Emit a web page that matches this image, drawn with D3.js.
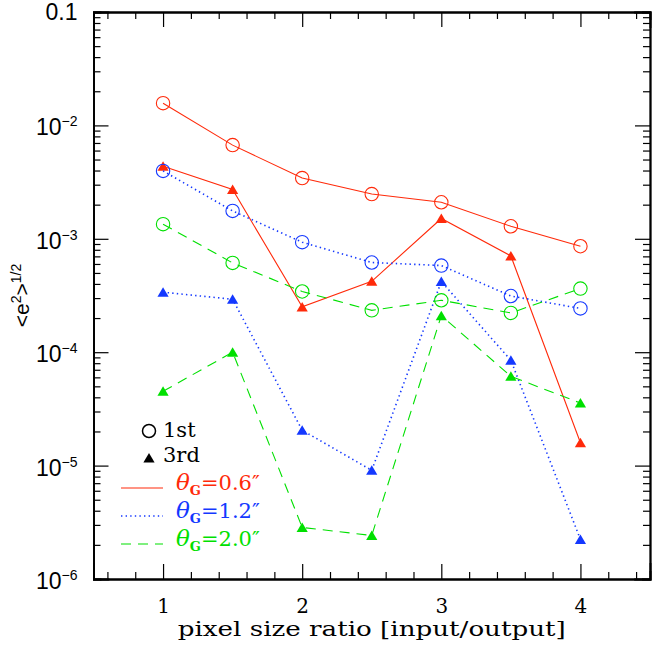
<!DOCTYPE html>
<html>
<head>
<meta charset="utf-8">
<script src="https://cdn.jsdelivr.net/npm/d3@7"></script>
<style>
body { margin: 0; background: #fff; }
svg { display: block; }
.ax path { stroke: #000; stroke-width: 1.8; }
.ax line { stroke: #000; stroke-width: 1.2; }
.ax text { font-family: "DejaVu Serif", serif; font-size: 20px; fill: #000; }
</style>
</head>
<body>
<div id="graphicContainer"></div>
<script>

var ratios = [1, 1.5, 2, 2.5, 3, 3.5, 4]

var red1st = [0.0157, 0.0067, 0.00343, 0.00248, 0.0021, 0.00129, 0.00086]
var red3rd = [0.00437, 0.00272, 0.000251, 0.000422, 0.00151, 0.000706, 1.59e-5]
var blue1st = [0.00397, 0.00176, 0.000933, 0.000618, 0.000581, 0.000313, 0.000243]
var blue3rd = [0.000338, 0.000293, 2.05e-5, 9.08e-6, 0.00042, 8.49e-5, 2.23e-6]
var green1st = [0.001346, 0.000613, 0.000343, 0.000234, 0.000287, 0.000222, 0.000364]
var green3rd = [4.52e-5, 1.0e-4, 2.85e-6, 2.42e-6, 2.1e-4, 6.13e-5, 3.56e-5]

var thetas = ["0.6", "1.2", "2.0"]
var orderLabels = ["1st", "3rd"]
var xTicks = [1, 2, 3, 4]
var yTicks = [1e-6, 1e-5, 1e-4, 1e-3, 1e-2, 0.1]
var xTitle = "pixel size ratio [input/output]"

var colors = ["#ff2a0a", "#1438ff", "#00e000"]
var dashes = [null, "1.4,3.2", "10,7"]

var series = [
	{ vals: red1st, c: 0, mark: "circle" },
	{ vals: red3rd, c: 0, mark: "tri" },
	{ vals: blue1st, c: 1, mark: "circle" },
	{ vals: blue3rd, c: 1, mark: "tri" },
	{ vals: green1st, c: 2, mark: "circle" },
	{ vals: green3rd, c: 2, mark: "tri" }
]

var width = 654, height = 647
var margin = { top: 12, right: 4, bottom: 68, left: 93.5 }
var w = width - margin.left - margin.right
var h = height - margin.top - margin.bottom

var svg = d3.select("#graphicContainer").append("svg")
	.attr("width", width)
	.attr("height", height)

var features = svg.append("g").attr("transform", "translate(" + margin.left + "," + margin.top + ")")

var x = d3.scaleLinear().domain([0.5, 4.5]).range([0, w])
var y = d3.scaleLog().domain([1e-6, 0.1]).range([h, 0])

var xMinor = d3.range(0.6, 4.45, 0.2).filter(function(v) { return Math.abs(v - Math.round(v)) > 0.01 })
var yMinor = []
for (var k = -6; k <= -2; k++) {
	for (var m = 2; m <= 9; m++) yMinor.push(m * Math.pow(10, k))
}

// ticks on all four sides, pointing inward
features.append("g").attr("class", "ax").attr("transform", "translate(0," + h + ")")
	.call(d3.axisBottom(x).tickValues(xTicks).tickSize(-15).tickPadding(20).tickFormat(d3.format("d")))
features.append("g").attr("class", "ax").attr("transform", "translate(0," + h + ")")
	.call(d3.axisBottom(x).tickValues(xMinor).tickSize(-7).tickFormat(""))
features.append("g").attr("class", "ax")
	.call(d3.axisTop(x).tickValues(xTicks).tickSize(-15).tickFormat(""))
features.append("g").attr("class", "ax")
	.call(d3.axisTop(x).tickValues(xMinor).tickSize(-7).tickFormat(""))
features.append("g").attr("class", "ax")
	.call(d3.axisLeft(y).tickValues(yTicks).tickSize(-15).tickFormat(""))
features.append("g").attr("class", "ax")
	.call(d3.axisLeft(y).tickValues(yMinor).tickSize(-7).tickFormat(""))
features.append("g").attr("class", "ax").attr("transform", "translate(" + w + ",0)")
	.call(d3.axisRight(y).tickValues(yTicks).tickSize(-15).tickFormat(""))
features.append("g").attr("class", "ax").attr("transform", "translate(" + w + ",0)")
	.call(d3.axisRight(y).tickValues(yMinor).tickSize(-7).tickFormat(""))

features.selectAll(".ax path").attr("stroke-linecap", "square")

yTicks.forEach(function(v) {
	var e = Math.round(Math.log10(v))
	var t = features.append("text")
		.attr("x", -16)
		.attr("y", y(v) + (e == -1 ? 8 : 10))
		.attr("text-anchor", "end")
		.style("font-family", "'Liberation Sans', Arial, sans-serif")
		.style("font-size", "23px")
	if (e == -1) {
		t.text("0.1")
	} else {
		t.append("tspan").text("10")
		t.append("tspan").attr("dy", -9).style("font-size", "14px").text("\u2212" + Math.abs(e))
	}
})

var yTitle = svg.append("text")
	.attr("transform", "translate(29," + (margin.top + h / 2) + ") rotate(-90)")
	.attr("text-anchor", "middle")
	.style("font-family", "'Liberation Sans', Arial, sans-serif")
	.style("font-size", "21px")
yTitle.append("tspan").text("<e")
yTitle.append("tspan").attr("dy", -8).style("font-size", "14px").text("2")
yTitle.append("tspan").attr("dy", 8).text(">")
yTitle.append("tspan").attr("dy", -8).style("font-size", "14px").text("1/2")

svg.append("text")
	.attr("x", margin.left + w / 2)
	.attr("y", 636)
	.attr("text-anchor", "middle")
	.style("font-family", "'DejaVu Serif', serif")
	.style("font-size", "20px")
	.attr("textLength", 388)
	.attr("lengthAdjust", "spacingAndGlyphs")
	.text(xTitle)

var line = d3.line()
	.x(function(d, i) { return x(ratios[i]) })
	.y(function(d) { return y(d) })

var triPath = "M0,-5L5.6,4.5L-5.6,4.5Z"

series.forEach(function(s) {
	features.append("path")
		.datum(s.vals)
		.attr("d", line)
		.attr("fill", "none")
		.attr("stroke", colors[s.c])
		.attr("stroke-width", s.c == 1 ? 1.6 : 1.1)
		.attr("stroke-dasharray", dashes[s.c])

	if (s.mark == "circle") {
		features.selectAll(null)
			.data(s.vals)
			.enter()
			.append("circle")
			.attr("cx", function(d, i) { return x(ratios[i]) })
			.attr("cy", function(d) { return y(d) })
			.attr("r", 6.7)
			.attr("fill", "none")
			.attr("stroke", colors[s.c])
			.attr("stroke-width", 1.1)
	} else {
		features.selectAll(null)
			.data(s.vals)
			.enter()
			.append("path")
			.attr("d", triPath)
			.attr("transform", function(d, i) { return "translate(" + x(ratios[i]) + "," + y(d) + ")" })
			.attr("fill", colors[s.c])
	}
})

// legend
var legend = svg.append("g")
legend.append("circle").attr("cx", 149).attr("cy", 431).attr("r", 6.5)
	.attr("fill", "none").attr("stroke", "#000").attr("stroke-width", 1.5)
legend.append("path").attr("d", triPath).attr("transform", "translate(149,458)").attr("fill", "#000")

orderLabels.forEach(function(l, i) {
	legend.append("text")
		.attr("x", 163)
		.attr("y", 437 + i * 25)
		.style("font-family", "'DejaVu Serif', serif")
		.style("font-size", "21px")
		.text(l)
})

thetas.forEach(function(t, i) {
	var ly = 488 + i * 28
	legend.append("line")
		.attr("x1", 121).attr("x2", 163)
		.attr("y1", ly).attr("y2", ly)
		.attr("stroke", colors[i])
		.attr("stroke-width", i == 1 ? 1.6 : 1.1)
		.attr("stroke-dasharray", dashes[i])
	var tx = legend.append("text")
		.attr("x", 176)
		.attr("y", ly + 2)
		.attr("fill", colors[i])
		.style("font-family", "'DejaVu Serif', serif")
		.style("font-size", "21px")
	tx.append("tspan").style("font-style", "italic").style("font-size", "23px").text("\u03b8")
	tx.append("tspan").attr("dy", 5).style("font-size", "13px").style("font-weight", "bold").text("G")
	tx.append("tspan").attr("dy", -5).text("=" + t + "\u2033")
})

</script>
</body>
</html>
